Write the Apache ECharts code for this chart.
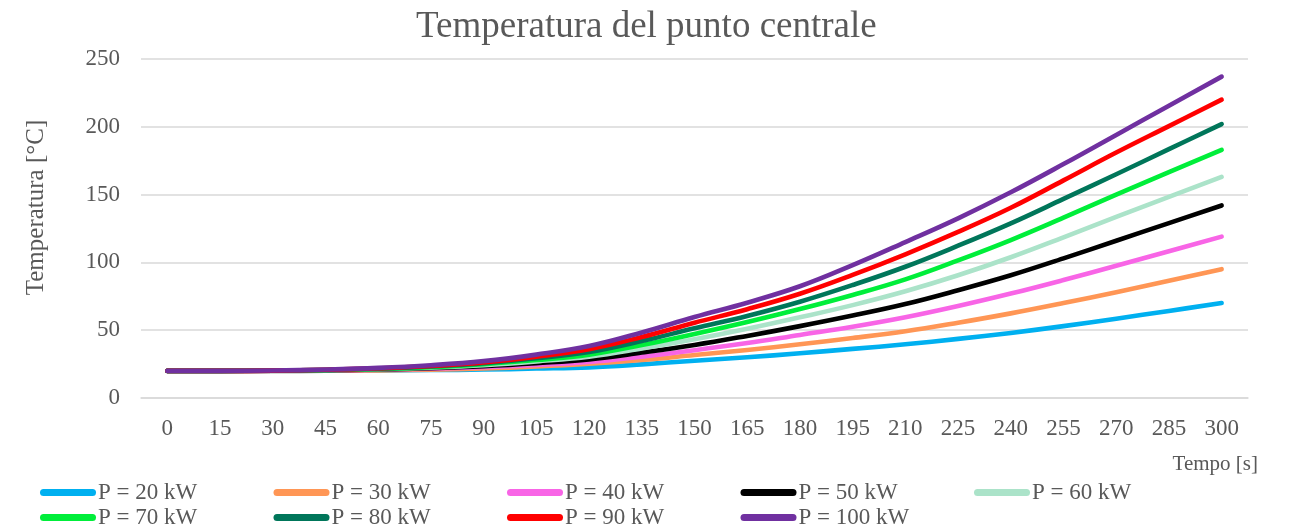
<!DOCTYPE html>
<html>
<head>
<meta charset="utf-8">
<title>Temperatura del punto centrale</title>
<script src="https://cdn.jsdelivr.net/npm/echarts@6/dist/echarts.min.js"></script>
<style>
  html, body { margin: 0; padding: 0; background: #ffffff; }
  #chart { width: 1306px; height: 529px; }
</style>
</head>
<body>
<div id="chart"></div>
<script>
// Time steps [s]
const tempi = [0, 15, 30, 45, 60, 75, 90, 105, 120, 135, 150, 165, 180, 195, 210, 225, 240, 255, 270, 285, 300];

// Centre-point temperature [°C] for each heating power
const p20  = [20, 20, 20, 20.1, 20.3, 20.6, 21, 21.7, 22.6, 24.8, 27.5, 30, 33, 36.2, 39.6, 43.6, 48, 53, 58.5, 64.2, 70];
const p30  = [20, 20, 20, 20.1, 20.4, 20.9, 21.8, 23.2, 25.2, 28, 31.7, 35.4, 39.6, 44.2, 49.2, 55.5, 62.4, 70, 78, 86.4, 95];
const p40  = [20, 20, 20.1, 20.3, 20.8, 21.6, 22.8, 24.4, 26.5, 30.5, 35.2, 40.5, 46.5, 52.5, 59.5, 67.8, 77, 87, 97.5, 108.2, 119];
const p50  = [20, 20, 20.1, 20.4, 21, 22, 23.5, 25.7, 28.5, 33.5, 39.1, 45.8, 53, 60.8, 69.3, 79.5, 90.5, 103, 116, 129, 142];
const p60  = [20, 20, 20.1, 20.5, 21.2, 22.4, 24.2, 27, 30.5, 36.5, 43.3, 51, 59.5, 68.5, 78.7, 90.5, 103.8, 118.5, 133.5, 148.3, 163];
const p70  = [20, 20, 20.2, 20.6, 21.4, 22.8, 25, 28, 32, 39, 47.2, 56, 65.6, 76, 87.5, 101.5, 116.5, 133, 150, 166.5, 183];
const p80  = [20, 20, 20.2, 20.7, 21.6, 23.2, 25.7, 29.3, 34, 42, 51.4, 60.5, 71, 83.3, 96.8, 112.3, 128.8, 146.8, 165, 183.5, 202];
const p90  = [20, 20, 20.2, 20.8, 21.9, 23.6, 26.3, 30.5, 36, 45, 55.5, 65.5, 76.9, 90.8, 106, 122.5, 140.3, 160.5, 181, 200.5, 220];
const p100 = [20, 20, 20.3, 21, 22.2, 24.2, 27.2, 32, 38.3, 48.3, 59.7, 70.3, 82.4, 98, 115, 132.5, 151.7, 172.5, 194, 215.5, 237];

const nomi = ['P = 20 kW', 'P = 30 kW', 'P = 40 kW', 'P = 50 kW', 'P = 60 kW',
              'P = 70 kW', 'P = 80 kW', 'P = 90 kW', 'P = 100 kW'];
const colori = ['#00b0f0', '#ff9655', '#f865e6', '#000000', '#abe3c9',
                '#00ee3a', '#00765a', '#ff0000', '#7030a0'];
const valori = [p20, p30, p40, p50, p60, p70, p80, p90, p100];

const FONT = '"Liberation Serif", "Times New Roman", serif';
const GREY = '#595959';

const series = nomi.map((nome, i) => ({
  name: nome,
  type: 'line',
  data: valori[i],
  smooth: 0.4,
  showSymbol: false,
  symbol: 'none',
  lineStyle: { width: 4.6, color: colori[i], cap: 'round', join: 'round' },
  itemStyle: { color: colori[i] },
  emphasis: { disabled: true }
}));

// One legend block per series, laid out on a 5-column grid
const legende = nomi.map((nome, i) => ({
  data: [nome],
  left: 40 + (i % 5) * 233.5,
  top: i < 5 ? 481 : 506,
  orient: 'horizontal',
  itemWidth: 56,
  itemHeight: 7,
  itemGap: 0,
  padding: 0,
  icon: 'path://M3.5,0 H52.5 A3.5,3.5 0 0 1 52.5,7 H3.5 A3.5,3.5 0 0 1 3.5,0 Z',
  textStyle: { fontFamily: FONT, fontSize: 23, color: GREY, padding: [0, 0, 0, -3] }
}));

const chart = echarts.init(document.getElementById('chart'), null, { renderer: 'canvas' });
chart.setOption({
  animation: false,
  backgroundColor: '#ffffff',
  title: {
    text: 'Temperatura del punto centrale',
    left: 411,
    top: 4,
    textStyle: { fontFamily: FONT, fontSize: 37, fontWeight: 'normal', color: GREY }
  },
  grid: { left: 141, right: 58, top: 59, bottom: 131, containLabel: false },
  legend: legende,
  xAxis: {
    type: 'category',
    data: tempi,
    boundaryGap: true,
    axisLine: { show: true, lineStyle: { color: '#d9d9d9', width: 1.5 } },
    axisTick: { show: false },
    axisLabel: { fontFamily: FONT, fontSize: 23, color: GREY, margin: 19, interval: 0 }
  },
  yAxis: {
    type: 'value',
    min: 0,
    max: 250,
    interval: 50,
    name: 'Temperatura [°C]',
    nameLocation: 'middle',
    nameGap: 92,
    nameRotate: 90,
    nameTextStyle: { fontFamily: FONT, fontSize: 25, color: GREY, padding: [0, 0, 0, 42] },
    axisLine: { show: false },
    axisTick: { show: false },
    splitLine: { lineStyle: { color: '#d9d9d9', width: 1.5 } },
    axisLabel: { fontFamily: FONT, fontSize: 23, color: GREY, margin: 21 }
  },
  graphic: [{
    type: 'text',
    right: 48,
    top: 454,
    style: { text: 'Tempo [s]', font: '21px ' + FONT, fill: GREY }
  }],
  series: series
});
</script>
</body>
</html>
